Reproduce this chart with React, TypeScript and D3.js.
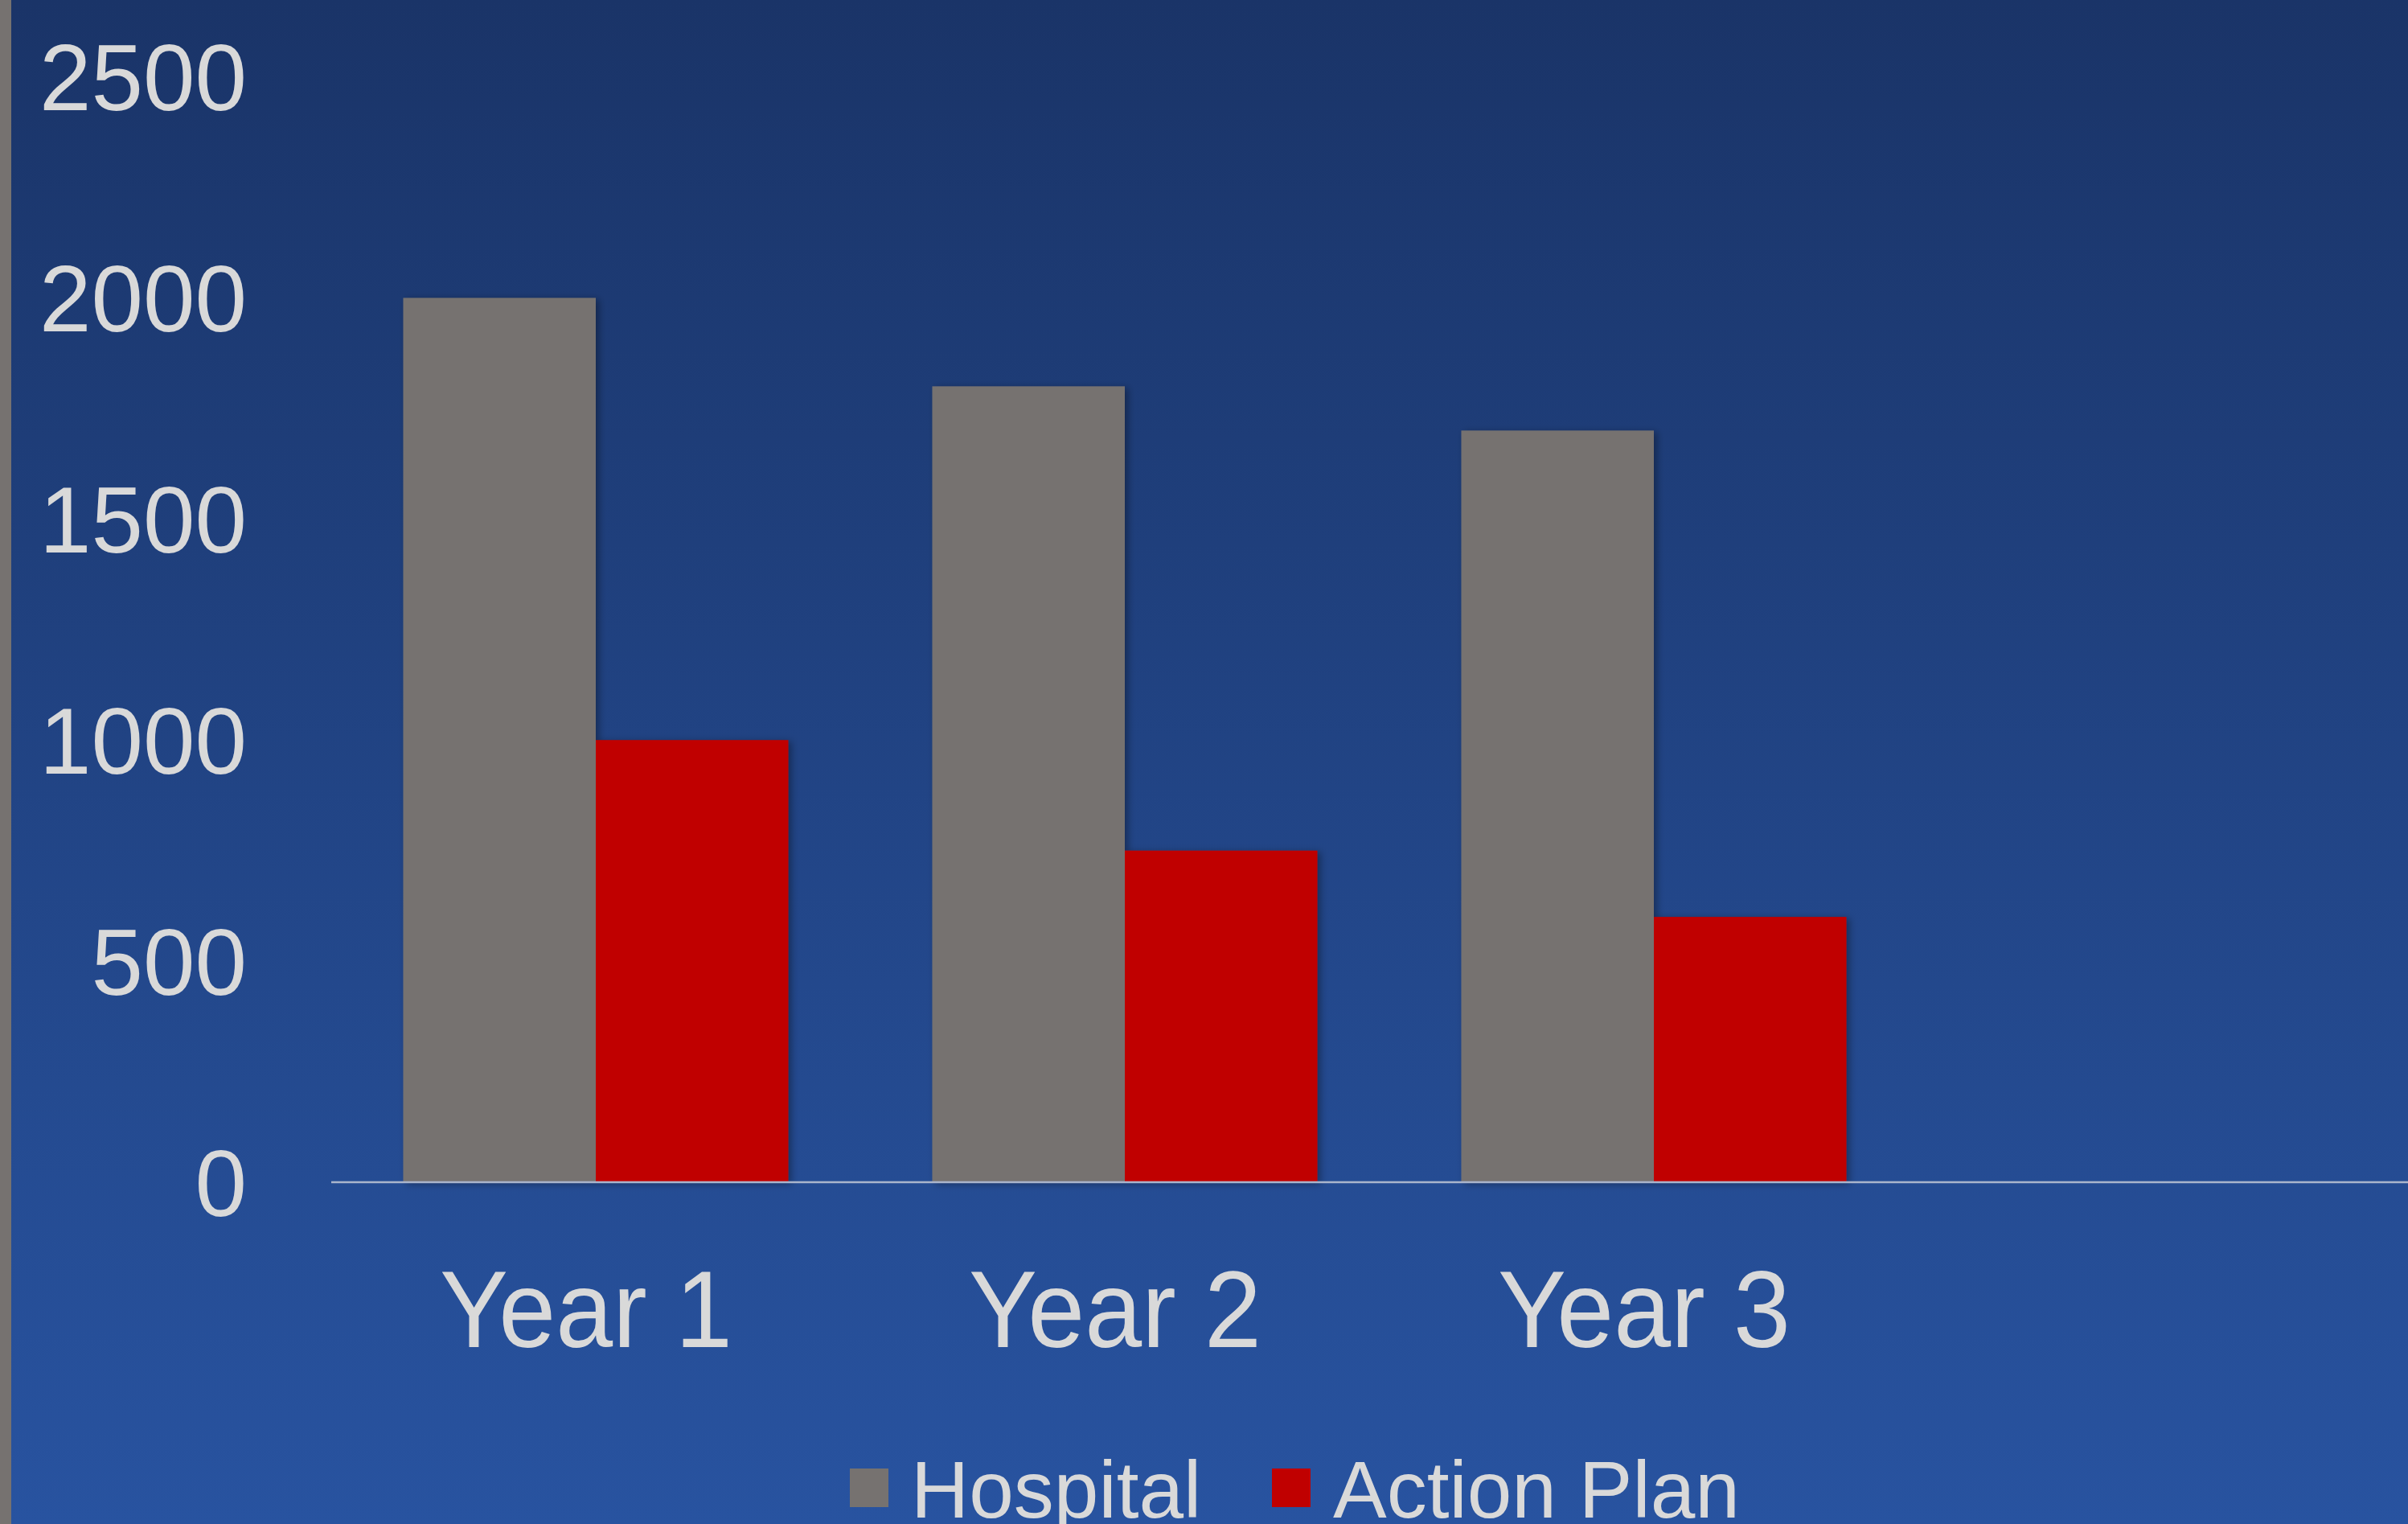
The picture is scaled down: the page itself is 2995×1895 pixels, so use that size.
import React, { useRef, useEffect } from 'react';
import * as d3 from 'd3';

// chart data
const categories = ['Year 1', 'Year 2', 'Year 3'];
const seriesNames = ['Hospital', 'Action Plan'];
const hospital = [2000, 1800, 1700];
const actionPlan = [1000, 750, 600];
const yTicks = [0, 500, 1000, 1500, 2000, 2500];

const seriesColors = ['#767270', '#c00000'];

const W = 2995;
const H = 1895;

const App: React.FC = () => {
  const ref = useRef<SVGSVGElement | null>(null);

  useEffect(() => {
    if (!ref.current) return;
    const svg = d3.select(ref.current);
    svg.selectAll('*').remove();

    const defs = svg.append('defs');
    const grad = defs.append('linearGradient')
      .attr('id', 'bg')
      .attr('x1', 0).attr('y1', 0).attr('x2', 0).attr('y2', 1);
    grad.append('stop').attr('offset', '0%').attr('stop-color', '#1a3468');
    grad.append('stop').attr('offset', '100%').attr('stop-color', '#2853a0');

    const shadow = defs.append('filter')
      .attr('id', 'shadow')
      .attr('x', '-10%').attr('y', '-10%')
      .attr('width', '130%').attr('height', '130%');
    shadow.append('feDropShadow')
      .attr('dx', 4).attr('dy', 2)
      .attr('stdDeviation', 5)
      .attr('flood-color', '#000')
      .attr('flood-opacity', 0.35);

    // background + left grey strip
    svg.append('rect').attr('width', W).attr('height', H).attr('fill', 'url(#bg)');
    svg.append('rect').attr('width', 14).attr('height', H).attr('fill', '#767270');

    const left = 412;
    const step = 658;
    const baseY = 1470;
    const topY = 95.5;

    const x = d3.scaleBand<string>()
      .domain(categories)
      .range([left, left + step * categories.length])
      .paddingInner(0.272)
      .paddingOuter(0.136);

    const xs = d3.scaleBand<string>()
      .domain(seriesNames)
      .range([0, x.bandwidth()]);

    const y = d3.scaleLinear().domain([0, 2500]).range([baseY, topY]);

    const font = '"Liberation Sans", Arial, sans-serif';
    const textColor = '#d9d9d9';

    // y tick labels
    svg.append('g')
      .selectAll('text')
      .data(yTicks)
      .join('text')
      .attr('x', 307)
      .attr('y', d => y(d))
      .attr('dy', '0.36em')
      .attr('text-anchor', 'end')
      .attr('font-family', font)
      .attr('font-size', 116)
      .attr('fill', textColor)
      .text(d => String(d));

    // bars
    const values = [hospital, actionPlan];
    const rows = categories.flatMap((c, i) =>
      seriesNames.map((s, j) => ({ c, s, v: values[j][i], color: seriesColors[j] }))
    );

    svg.append('g')
      .attr('filter', 'url(#shadow)')
      .selectAll('rect')
      .data(rows)
      .join('rect')
      .attr('x', d => (x(d.c) ?? 0) + (xs(d.s) ?? 0))
      .attr('y', d => y(d.v))
      .attr('width', xs.bandwidth())
      .attr('height', d => y(0) - y(d.v))
      .attr('fill', d => d.color);

    // baseline
    svg.append('line')
      .attr('x1', left).attr('x2', W)
      .attr('y1', y(0)).attr('y2', y(0))
      .attr('stroke', '#aab5cc')
      .attr('stroke-width', 2.5);

    // category labels
    svg.append('g')
      .selectAll('text')
      .data(categories)
      .join('text')
      .attr('x', d => (x(d) ?? 0) + x.bandwidth() / 2 - 12)
      .attr('y', 1675)
      .attr('text-anchor', 'middle')
      .attr('font-family', font)
      .attr('font-size', 136)
      .attr('textLength', 364)
      .attr('lengthAdjust', 'spacingAndGlyphs')
      .attr('fill', textColor)
      .text(d => d);

    // legend
    const legendX = [1057, 1582];
    const legend = svg.append('g')
      .selectAll('g')
      .data(seriesNames)
      .join('g')
      .attr('transform', (_, i) => `translate(${legendX[i]},0)`);
    legend.append('rect')
      .attr('y', 1826)
      .attr('width', 48)
      .attr('height', 48)
      .attr('fill', (_, i) => seriesColors[i]);
    legend.append('text')
      .attr('x', 76)
      .attr('y', 1887)
      .attr('font-family', font)
      .attr('font-size', 100)
      .attr('fill', textColor)
      .text(d => d);
  }, []);

  return (
    <svg
      ref={ref}
      width={W}
      height={H}
      style={{ position: 'absolute', left: 0, top: 0, display: 'block' }}
    />
  );
};

export default App;
